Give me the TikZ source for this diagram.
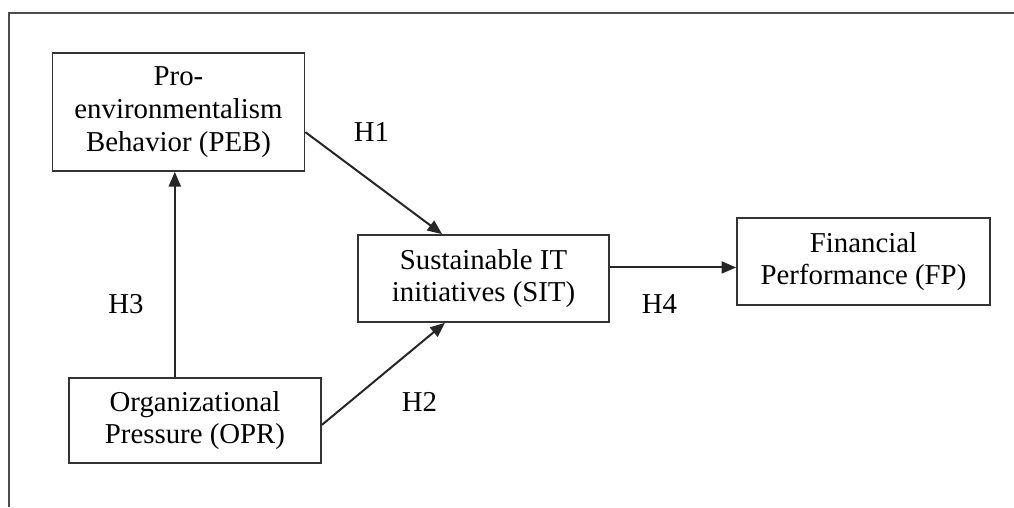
\documentclass[tikz,border=0pt]{standalone}
\usepackage{fontspec}
\setmainfont{Liberation Serif}
\usetikzlibrary{arrows.meta,calc}

\begin{document}
\begin{tikzpicture}[x=0.015cm, y=-0.015cm, font=\fontsize{12.3}{14}\selectfont,
  box/.style={draw=black!80, line width=0.7pt, inner sep=0pt, align=center},
  link/.style={draw=black!85, line width=0.85pt, -{Triangle[length=0.22cm,width=0.18cm]}},
  hyp/.style={inner sep=0pt}]
\useasboundingbox (0,0) rectangle (1014,507);
% frame of the figure, cut off at right and bottom
\draw[black!70, line width=0.9pt] (9,507) -- (9,13) -- (1014,13);
\node[box, minimum width=3.78cm, minimum height=1.77cm] (peb) at (178.5,112) {Pro-\\environmentalism\\Behavior (PEB)};
\node[box, minimum width=3.765cm, minimum height=1.305cm] (sit) at (483.5,278.5) {Sustainable IT\\initiatives (SIT)};
\node[box, minimum width=3.795cm, minimum height=1.305cm] (fp) at (863.5,261.5) {Financial\\Performance (FP)};
\node[box, minimum width=3.78cm, minimum height=1.275cm] (opr) at (195,420.5) {Organizational\\Pressure (OPR)};
\draw[link] (peb.-9) -- (sit.133);
\draw[link] (opr.-2) -- (sit.-131);
\draw[link] (opr.115) -- (opr.115 |- peb.south);
\draw[link] (sit.5) -- (sit.5 -| fp.west);
\node[hyp] (h1) at (371.5,132) {H1};
\node[hyp] (h2) at (419.5,402) {H2};
\node[hyp] (h3) at (126,304) {H3};
\node[hyp] (h4) at (659.5,304.5) {H4};
\end{tikzpicture}
\end{document}
